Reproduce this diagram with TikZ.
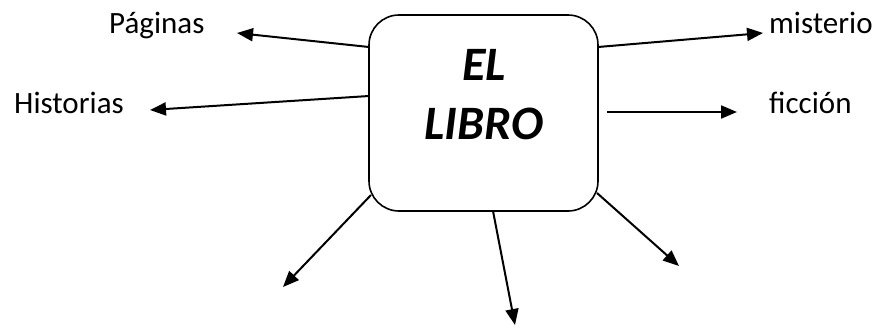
\documentclass[tikz,border=0pt]{standalone}
\usepackage{fontspec}
\setmainfont{Carlito}
\usetikzlibrary{arrows.meta}
\tikzset{
  lbl/.style={inner sep=0pt, anchor=base west, font=\fontsize{31}{37}\selectfont},
  ttl/.style={inner sep=0pt, anchor=base, font=\fontsize{48}{57}\selectfont\bfseries\itshape},
  arr/.style={line width=2pt, -{Triangle[length=16pt,width=13pt]}},
  boxst/.style={draw, line width=1.6pt, rounded corners=30pt, minimum width=229pt, minimum height=196pt, inner sep=0pt}
}
\begin{document}
\begin{tikzpicture}[x=1pt,y=-1pt]
\useasboundingbox (0,0) rectangle (877,327);
\node[boxst] (box) at (483.5,113) {};
\node[ttl] (el) at (484,80) {EL};
\node[ttl] (libro) at (484,139) {LIBRO};
\node[lbl] (paginas) at (109,33) {Páginas};
\node[lbl] (historias) at (14,113) {Historias};
\node[lbl] (misterio) at (769,33) {misterio};
\node[lbl] (ficcion) at (769,113) {ficción};
% start points on or near the box
\coordinate (s1) at (369,47);
\coordinate (s2) at (369,96);
\coordinate (s3) at (598,47);
\coordinate (s4) at (607,112);
\coordinate (s5) at (371,195);
\coordinate (s6) at (493,211);
\coordinate (s7) at (597,193);
% arrow tips
\coordinate (t1) at (237,33);
\coordinate (t2) at (150,110);
\coordinate (t3) at (763,33);
\coordinate (t4) at (737,112);
\coordinate (t5) at (283,287);
\coordinate (t6) at (515,325);
\coordinate (t7) at (679,266);
\draw[arr] (s1) -- (t1);
\draw[arr] (s2) -- (t2);
\draw[arr] (s3) -- (t3);
\draw[arr] (s4) -- (t4);
\draw[arr] (s5) -- (t5);
\draw[arr] (s6) -- (t6);
\draw[arr] (s7) -- (t7);
\end{tikzpicture}
\end{document}
